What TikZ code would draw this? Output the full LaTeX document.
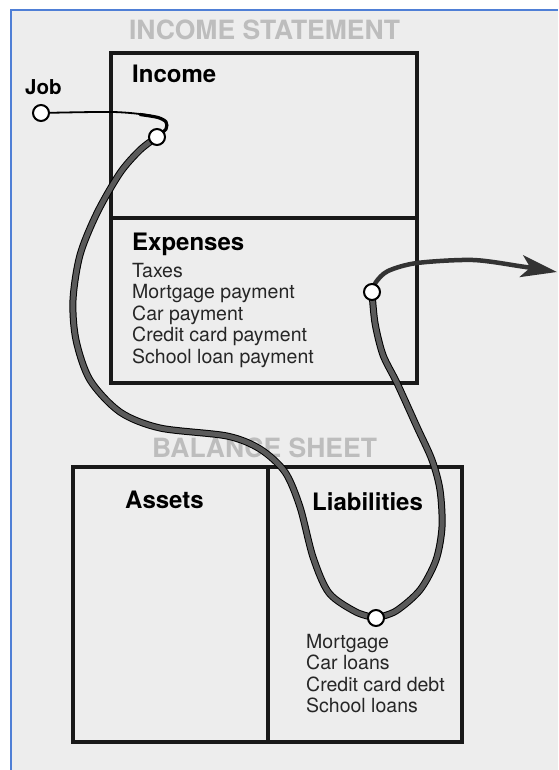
\documentclass[tikz,border=0pt]{standalone}
\usepackage{fontspec}
\setmainfont{TeX Gyre Heros}
\usetikzlibrary{arrows.meta}

\definecolor{pagegray}{HTML}{EDEDED}
\definecolor{frameblue}{HTML}{4F7FD6}
\definecolor{titlegray}{HTML}{BDBDBD}
\definecolor{flowgray}{HTML}{5A5A5A}

\pgfdeclarelayer{front}
\pgfsetlayers{main,front}

\tikzset{
  boxline/.style={line width=3.6pt, draw=black!90},
  sheettitle/.style={anchor=base, inner sep=0pt, text=titlegray, font=\bfseries\fontsize{26.5}{30}\selectfont},
  heading/.style={anchor=base west, inner sep=0pt, font=\bfseries\fontsize{24}{28}\selectfont},
  entry/.style={anchor=base west, inner sep=0pt, text=black!85, font=\fontsize{19.5}{22}\selectfont},
  stop/.style={circle, draw=black, line width=2pt, fill=white, inner sep=0pt, minimum size=16pt},
  flow/.style={draw=black, line width=1pt, double=flowgray, double distance=5pt},
  feed/.style={draw=black, line width=1.8pt, line cap=round},
  outflow/.style={draw=black!80, line width=4.5pt, -{Stealth[length=36pt,width=22pt,inset=9pt]}},
}

\begin{document}
\begin{tikzpicture}[x=1pt, y=-1pt]
\useasboundingbox (0,0) rectangle (558,770);
\fill [white] (0,0) rectangle (558,770);
\fill [pagegray] (11,10) rectangle (558,770);
\draw [frameblue, line width=1.6pt] (11,770) -- (11,10) -- (558,10);

% income statement
\node [sheettitle] (inctitle) at (264.5,40) {INCOME STATEMENT};
\draw [boxline] (111,53) rectangle (417,383);
\draw [boxline] (111,218) -- (417,218);

\node [heading] (income) at (132,83) {Income};
\node [heading] (expenses) at (132,250) {Expenses};
\node [entry] (tax) at (132,277) {Taxes};
\node [entry] (mortpay) at (132,298.5) {Mortgage payment};
\node [entry] (carpay) at (132,320) {Car payment};
\node [entry] (cardpay) at (132,341.5) {Credit card payment};
\node [entry] (schoolpay) at (132,363) {School loan payment};

% balance sheet
\node [sheettitle] (baltitle) at (264.5,457) {BALANCE SHEET};
\draw [boxline] (73,467) rectangle (462,742);
\draw [boxline] (268,467) -- (268,742);

\node [heading] (assets) at (125,508) {Assets};
\node [heading] (liabilities) at (312,510) {Liabilities};
\node [entry] (mort) at (306,648) {Mortgage};
\node [entry] (carloan) at (306,669.5) {Car loans};
\node [entry] (carddebt) at (306,691) {Credit card debt};
\node [entry] (schoolloan) at (306,712.5) {School loans};

% stops on the money path
\begin{pgfonlayer}{front}
\node [heading] (joblabel) at (25,95) {\fontsize{20.5}{24}\selectfont Job};
\node [stop] (job) at (41,113) {};
\node [stop] (inc) at (157,137) {};
\node [stop] (exp) at (372,292) {};
\node [stop] (liab) at (376,618) {};
\end{pgfonlayer}
\coordinate (out) at (557,272);

\draw [feed] plot [smooth] coordinates {(job) (113,112) (150,115.5) (165,121) (166,129) (inc)};
\draw [feed, line width=3.2pt] plot [smooth] coordinates {(140,114.5) (158,117.5) (166,122) (166,129) (inc)};

\draw [flow] plot [smooth] coordinates {(inc) (140,150) (120,173) (97,213) (80,255) (73,300)
  (76,340) (90,380) (120,412) (160,428) (227,436) (260,449) (285,472) (300,507)
  (313,557) (329,593) (356,612) (liab)};

\draw [flow] plot [smooth] coordinates {(liab) (396,611) (420,590) (436,560) (442,527)
  (440,490) (432,460) (417,427) (397,383) (383,355) (375,323) (exp)};

\draw [outflow] plot [smooth] coordinates {(exp) (376,282) (388,271) (417,263) (473,260) (522,266.5) (out)};
\end{tikzpicture}
\end{document}
